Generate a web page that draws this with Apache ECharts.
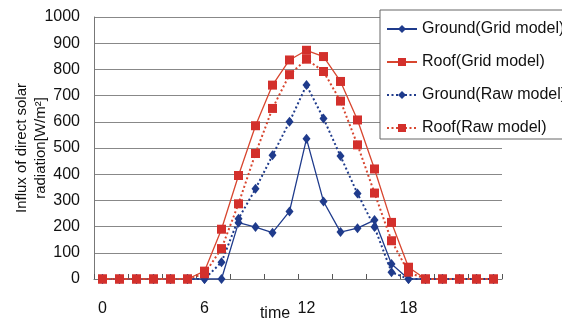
<!DOCTYPE html>
<html>
<head>
<meta charset="utf-8">
<script src="https://cdn.jsdelivr.net/npm/echarts@6/dist/echarts.min.js"></script>
<style>
html,body{margin:0;padding:0;background:#fff;}
#chart{width:562px;height:322px;}
</style>
</head>
<body>
<div id="chart"></div>
<script>
var hours = ['0','1','2','3','4','5','6','7','8','9','10','11','12','13','14','15','16','17','18','19','20','21','22','23'];
var groundGrid = [0,0,0,0,0,0,0,0,215,198,177,258,535,296,179,194,225,57,0,0,0,0,0,0];
var roofGrid   = [0,0,0,0,0,0,30,190,395,585,740,836,873,849,754,607,420,216,45,0,0,0,0,0];
var groundRaw  = [0,0,0,0,0,0,0,64,230,344,472,600,740,613,469,326,198,26,0,0,0,0,0,0];
var roofRaw    = [0,0,0,0,0,0,20,116,287,479,651,780,839,792,679,512,328,146,26,0,0,0,0,0];
var seriesNames = ['Ground(Grid model)','Roof(Grid model)','Ground(Raw model)','Roof(Raw model)'];

var BLUE = '#1f3b8c';
var RED = '#d3302c';
var REDLINE = '#d8462f';
var FONT = 'Arial, "Liberation Sans", sans-serif';

function mk(name, data, isRoof, dotted) {
  return {
    name: name,
    type: 'line',
    data: data,
    symbol: isRoof ? 'rect' : 'diamond',
    symbolSize: isRoof ? [9, 9] : [8, 10],
    showAllSymbol: true,
    itemStyle: { color: isRoof ? RED : BLUE },
    lineStyle: {
      color: isRoof ? REDLINE : BLUE,
      width: dotted ? 2 : 1.3,
      type: dotted ? [2, 2.5] : 'solid'
    },
    emphasis: { disabled: true },
    animation: false
  };
}

var chart = echarts.init(document.getElementById('chart'), null, { renderer: 'canvas' });
chart.setOption({
  backgroundColor: '#fff',
  animation: false,
  textStyle: { fontFamily: FONT },
  grid: { left: 94, right: 60, top: 17, bottom: 43, containLabel: false, outerBoundsMode: 'none' },
  legend: {
    orient: 'vertical',
    left: 380, top: 10,
    padding: [11, 10, 3, 6],
    itemGap: 17,
    itemWidth: 30,
    itemHeight: 10,
    backgroundColor: '#fff',
    borderColor: '#666',
    borderWidth: 1,
    borderRadius: 0,
    textStyle: { fontSize: 16, color: '#111', fontFamily: FONT },
    data: seriesNames
  },
  xAxis: {
    type: 'category',
    data: hours,
    boundaryGap: true,
    name: 'time',
    nameLocation: 'middle',
    nameGap: 27,
    nameMoveOverlap: false,
    nameTextStyle: { fontSize: 16, color: '#111', padding: [0, 46, 0, 0] },
    axisLine: { show: true, onZero: false, lineStyle: { color: '#777', width: 1 } },
    axisTick: {
      show: true, inside: true, length: 5,
      interval: function (i) { return i % 2 === 0; },
      lineStyle: { color: '#555', width: 1 }
    },
    axisLabel: { interval: 5, fontSize: 16, color: '#111', margin: 22 },
    splitLine: { show: false }
  },
  yAxis: {
    type: 'value',
    min: 0, max: 1000, interval: 100,
    name: 'Influx of direct solar\nradiation[W/m²]',
    nameLocation: 'middle',
    nameRotate: 90,
    nameGap: 44,
    nameMoveOverlap: false,
    nameTextStyle: { fontSize: 15, color: '#111', lineHeight: 19 },
    axisLine: { show: true, lineStyle: { color: '#777', width: 1 } },
    axisTick: { show: false },
    axisLabel: { fontSize: 16, color: '#111', margin: 14, formatter: function (v) { return String(v); } },
    splitLine: { show: true, lineStyle: { color: '#888', width: 1 } }
  },
  series: [
    mk(seriesNames[0], groundGrid, false, false),
    mk(seriesNames[1], roofGrid, true, false),
    mk(seriesNames[2], groundRaw, false, true),
    mk(seriesNames[3], roofRaw, true, true)
  ]
});
</script>
</body>
</html>
